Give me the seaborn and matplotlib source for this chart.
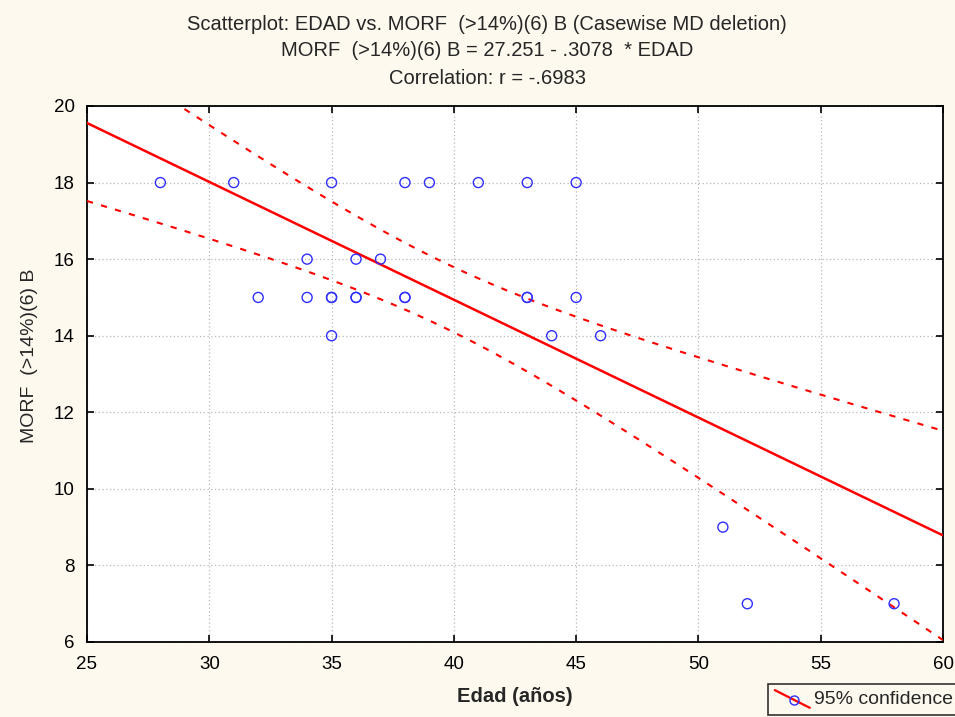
import numpy as np
import pandas as pd
import seaborn as sns
import matplotlib
matplotlib.use("Agg")
import matplotlib.pyplot as plt
from matplotlib.lines import Line2D
from matplotlib.legend_handler import HandlerBase

# ---- data (incl. 4 overlapping duplicates) ----
edad = [28, 31, 35, 38, 39, 41, 43, 45,
        34, 36, 37,
        32, 34, 35, 36, 38, 43, 45,
        35, 44, 46,
        51,
        52, 58,
        35, 36, 38, 43]
morf = [18, 18, 18, 18, 18, 18, 18, 18,
        16, 16, 16,
        15, 15, 15, 15, 15, 15, 15,
        14, 14, 14,
        9,
        7, 7,
        15, 15, 15, 15]
x_ticks = [25, 30, 35, 40, 45, 50, 55, 60]
y_ticks = [6, 8, 10, 12, 14, 16, 18, 20]

title_lines = ["Scatterplot: EDAD vs. MORF  (>14%)(6) B (Casewise MD deletion)",
               "MORF  (>14%)(6) B = 27.251 - .3078  * EDAD",
               "Correlation: r = -.6983"]
x_label = "Edad (años)"
y_label = "MORF  (>14%)(6) B"
legend_label = "95% confidence"

df = pd.DataFrame({"EDAD": edad, "MORF": morf})

# least-squares line and 95% confidence band for the mean
x = np.asarray(edad, float)
y = np.asarray(morf, float)
n = len(x)
slope, intercept = np.polyfit(x, y, 1)
resid = y - (intercept + slope * x)
s = np.sqrt(np.sum(resid ** 2) / (n - 2))
sxx = np.sum((x - x.mean()) ** 2)
t = 2.0555  # t(0.975, 26)
xg = np.linspace(25, 60, 300)
fit = intercept + slope * xg
half = t * s * np.sqrt(1.0 / n + (xg - x.mean()) ** 2 / sxx)
band = pd.DataFrame({"x": xg, "fit": fit, "lo": fit - half, "hi": fit + half})

# ---- style ----
sns.set_style("ticks")
plt.rcParams["font.family"] = ["Liberation Sans", "DejaVu Sans"]
bg = "#fdf9ef"
red = "#ff0000"
blue = "#2f2fff"

fig = plt.figure(figsize=(9.55, 7.17), dpi=100, facecolor=bg)
ax = fig.add_axes([87 / 955, 1 - 642 / 717, (943 - 87) / 955, (642 - 106) / 717])
ax.set_facecolor("white")

ax.grid(True, color="#b8b8b8", linestyle=(0, (1, 2)), linewidth=0.9)
ax.set_axisbelow(True)

sns.lineplot(data=band, x="x", y="fit", ax=ax, color=red, linewidth=1.8, zorder=3)
sns.lineplot(data=band, x="x", y="lo", ax=ax, color=red, linewidth=1.5,
             linestyle=(0, (3, 4)), zorder=3)
sns.lineplot(data=band, x="x", y="hi", ax=ax, color=red, linewidth=1.5,
             linestyle=(0, (3, 4)), zorder=3)

sns.scatterplot(data=df, x="EDAD", y="MORF", ax=ax, marker="o", s=52,
                facecolor="none", edgecolor=blue, linewidth=1.0, zorder=4)

ax.set_xlim(25, 60)
ax.set_ylim(6, 20)
ax.set_xticks(x_ticks)
ax.set_yticks(y_ticks)
ax.tick_params(direction="in", length=5, width=1.2, labelsize=13.5, colors="black",
               top=True, right=True)
ax.tick_params(axis="x", pad=10)
ax.tick_params(axis="y", pad=9)
for sp in ax.spines.values():
    sp.set_visible(True)
    sp.set_color("black")
    sp.set_linewidth(1.3)

ax.set_xlabel("")
ax.set_ylabel("")
fig.text(515 / 955, 1 - 697 / 717, x_label, ha="center", va="center",
         fontsize=14.5, fontweight="bold")
fig.text(30 / 955, 1 - 356 / 717, y_label, ha="center", va="center",
         fontsize=14, rotation=90)

for line, yc in zip(title_lines, [25, 51, 78]):
    fig.text(487 / 955, 1 - yc / 717, line, ha="center", va="center",
             fontsize=14.5)


class DiagonalHandler(HandlerBase):
    def create_artists(self, legend, orig_handle, xdescent, ydescent,
                       width, height, fontsize, trans):
        x0 = -xdescent
        ln = Line2D([x0, x0 + width], [height * 1.05, -height * 0.25],
                    color=red, linewidth=1.6, transform=trans)
        mk = Line2D([x0 + width * 0.55], [height * 0.35], marker="o",
                    markersize=6.5, markerfacecolor="none", markeredgecolor=blue,
                    linestyle="none", transform=trans)
        return [ln, mk]


handle = Line2D([], [], color=red)
leg = fig.legend([handle], [legend_label], loc="upper left",
                 bbox_to_anchor=(768 / 955, 1 - 684 / 717), frameon=True,
                 fancybox=False, fontsize=14, handlelength=1.8, borderpad=0.35,
                 handletextpad=0.2, borderaxespad=0,
                 handler_map={Line2D: DiagonalHandler()})
leg.get_frame().set_edgecolor("black")
leg.get_frame().set_linewidth(1.2)
leg.get_frame().set_facecolor(bg)

fig.savefig("out.png", dpi=100, facecolor=bg)
